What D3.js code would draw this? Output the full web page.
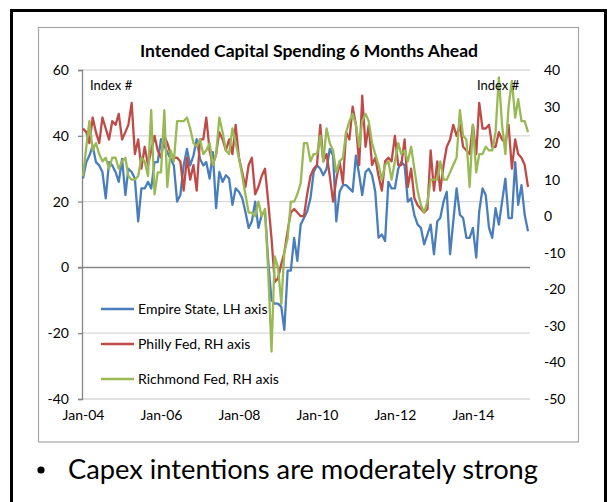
<!DOCTYPE html>
<html>
<head>
<meta charset="utf-8">
<script src="https://cdn.jsdelivr.net/npm/d3@7"></script>
<style>
  html, body { margin: 0; padding: 0; background: #fff; }
  svg { display: block; font-family: Lato, "Open Sans", sans-serif; }
</style>
</head>
<body>
<svg id="chart" width="610" height="502"></svg>
<script>
// Monthly survey readings, Jan 2004 – Jun 2015
const startMonth = new Date(Date.UTC(2004, 0, 1));
const endMonth = new Date(Date.UTC(2015, 5, 1));

// Empire State future capex index (left axis)
const empireState = [
  27, 32, 34, 37, 32, 31, 29, 21, 32, 31, 29, 26, 33, 22, 30, 29, 27, 14, 24, 24,
  26, 24, 32, 32, 39, 37, 35, 33, 31, 20, 22, 31, 36, 31, 34, 39, 33, 31, 32, 27,
  35, 18, 29, 26, 28, 27, 19, 24, 23, 21, 17, 12, 14, 20, 12, 16, 17, 2, -10, -11,
  -11, -12, -19, -1, -1, 9, 2, 13, 15, 17, 21, 29, 31, 30, 28, 30, 36, 34, 14, 23,
  25, 25, 24, 23, 34, 28, 22, 29, 30, 28, 23, 9, 10, 8, 26, 24, 24, 30, 32, 31,
  20, 21, 16, 13, 12, 7, 10, 13, 4, 14, 15, 20, 23, 4, 14, 24, 16, 15, 9, 9,
  12, 3, 17, 24, 22, 12, 9, 18, 13, 20, 27, 15, 15, 32, 19, 25, 16, 11
];

// Philadelphia Fed future capex index (right axis)
const phillyFed = [
  24, 23, 20, 27, 23, 20, 27, 24, 21, 26, 25, 28, 21, 23, 25, 31, 17, 21, 13, 19,
  14, 18, 22, 18, 16, 22, 20, 17, 16, 16, 15, 7, 16, 10, 14, 7, 21, 21, 27, 18,
  14, 17, 23, 21, 18, 21, 17, 25, 16, 12, 8, 14, 16, 6, 8, 11, 13, 4, -6, -18,
  -17, -13, -10, -4, 1, 2, 1, 0, 0, 6, 11, 13, 14, 25, 15, 17, 11, 4, 10, 15,
  9, 23, 21, 30, 25, 14, 33, 19, 25, 14, 16, 11, 7, 15, 16, 15, 22, 14, 14, 21,
  8, 13, 5, 3, 2, 1, 2, 18, 7, 15, 7, 14, 19, 21, 25, 22, 25, 19, 18, 17,
  25, 17, 31, 24, 24, 25, 19, 19, 23, 21, 20, 25, 13, 21, 17, 16, 14, 8
];

// Richmond Fed expected capital expenditures (right axis)
const richmondFed = [
  11, 19, 26, 18, 20, 17, 15, 16, 13, 16, 16, 13, 15, 16, 11, 10, 10, 11, 16, 15,
  11, 29, 6, 12, 12, 29, 8, 18, 15, 26, 26, 26, 27, 24, 20, 19, 21, 17, 18, 20,
  14, 17, 27, 23, 18, 17, 24, 20, 16, 11, 6, 1, 1, 0, 4, 0, 2, -15, -37, -11,
  -14, -24, -10, -6, 4, 4, 6, 9, 20, 20, 15, 17, 17, 22, 15, 24, 20, 18, 12, 15,
  16, 23, 26, 28, 25, 19, 26, 28, 26, 20, 17, 14, 10, 14, 15, 10, 15, 20, 17, 18,
  15, 19, 13, 7, 3, 1, 4, 10, 10, 10, 15, 10, 10, 12, 14, 16, 29, 22, 21, 8,
  25, 12, 17, 17, 19, 18, 18, 23, 38, 25, 17, 30, 37, 27, 32, 26, 26, 23
];

const leftTicks = [-40, -20, 0, 20, 40, 60];
const rightTicks = [-50, -40, -30, -20, -10, 0, 10, 20, 30, 40];
const yearTicks = [2004, 2006, 2008, 2010, 2012, 2014];

const seriesInfo = [
  { name: "Empire State, LH axis", values: empireState, axis: "left", color: "#4a7ebb" },
  { name: "Philly Fed, RH axis", values: phillyFed, axis: "right", color: "#be4b48" },
  { name: "Richmond Fed, RH axis", values: richmondFed, axis: "right", color: "#98b954" }
];

const months = d3.utcMonth.range(startMonth, d3.utcMonth.offset(endMonth, 1));

const svg = d3.select("#chart");
const plot = { left: 82, right: 530, top: 70, bottom: 399 };
const plain = d => String(d); // hyphen-minus for negatives

// Slide frame and chart frame
svg.append("rect")
  .attr("x", 11.5).attr("y", 10.5).attr("width", 594).attr("height", 600)
  .attr("fill", "none").attr("stroke", "#000").attr("stroke-width", 3);
svg.append("rect")
  .attr("x", 38.5).attr("y", 27.5).attr("width", 540).attr("height", 414.5)
  .attr("fill", "#fff").attr("stroke", "#a6a6a6").attr("stroke-width", 1.2);

const x = d3.scaleUtc().domain([startMonth, endMonth]).range([83, 528]);
const yL = d3.scaleLinear().domain([-40, 60]).range([plot.bottom, plot.top]);
const yR = d3.scaleLinear().domain([-50, 40]).range([plot.bottom, plot.top]);

// Gridlines
svg.append("g")
  .selectAll("line")
  .data(leftTicks.filter(d => d !== 0))
  .join("line")
  .attr("x1", plot.left).attr("x2", plot.right)
  .attr("y1", d => yL(d)).attr("y2", d => yL(d))
  .attr("stroke", "#d9d9d9").attr("stroke-width", 1.3);

// Left axis
const leftAxis = svg.append("g")
  .attr("transform", `translate(${plot.left},0)`)
  .call(d3.axisLeft(yL).tickValues(leftTicks).tickFormat(plain).tickSize(4).tickPadding(9));
leftAxis.select(".domain").attr("stroke", "#868686").attr("stroke-width", 1.3);
leftAxis.selectAll(".tick line").attr("stroke", "#868686").attr("stroke-width", 1.3);
leftAxis.selectAll(".tick text").attr("font-size", 14).attr("fill", "#000")
  .attr("font-family", "Lato, sans-serif");

// Right axis
const rightAxis = svg.append("g")
  .attr("transform", `translate(${plot.right},0)`)
  .call(d3.axisRight(yR).tickValues(rightTicks).tickFormat(plain).tickSize(0).tickPadding(14));
rightAxis.select(".domain").remove();
rightAxis.selectAll(".tick text").attr("font-size", 14).attr("fill", "#000")
  .attr("font-family", "Lato, sans-serif");

// Horizontal axis at zero
svg.append("line")
  .attr("x1", plot.left - 4).attr("x2", plot.right)
  .attr("y1", yL(0)).attr("y2", yL(0))
  .attr("stroke", "#868686").attr("stroke-width", 1.5);

// Date labels along the bottom
const bottomAxis = svg.append("g")
  .attr("transform", `translate(0,${plot.bottom})`)
  .call(d3.axisBottom(x)
    .tickValues(yearTicks.map(yr => new Date(Date.UTC(yr, 0, 1))))
    .tickFormat(d3.utcFormat("%b-%y"))
    .tickSize(0).tickPadding(11));
bottomAxis.select(".domain").remove();
bottomAxis.selectAll(".tick text").attr("font-size", 14).attr("fill", "#000")
  .attr("font-family", "Lato, sans-serif");

// Series lines
seriesInfo.forEach(s => {
  const y = s.axis === "left" ? yL : yR;
  const line = d3.line()
    .x((d, i) => x(months[i]))
    .y(d => y(d));
  svg.append("path")
    .datum(s.values)
    .attr("d", line)
    .attr("fill", "none")
    .attr("stroke", s.color)
    .attr("stroke-width", 2.3)
    .attr("stroke-linejoin", "round");
});

// Title
svg.append("text")
  .attr("x", 309).attr("y", 57)
  .attr("text-anchor", "middle")
  .attr("font-size", 17).attr("font-weight", "bold")
  .attr("textLength", 338).attr("lengthAdjust", "spacingAndGlyphs")
  .text("Intended Capital Spending 6 Months Ahead");

// Axis unit captions
svg.append("text").attr("x", 90).attr("y", 90)
  .attr("font-size", 13).text("Index #");
svg.append("text").attr("x", 477).attr("y", 90)
  .attr("font-size", 13).text("Index #");

// Legend
const legend = svg.append("g");
seriesInfo.forEach((s, i) => {
  const ly = 309 + i * 35;
  legend.append("line")
    .attr("x1", 101).attr("x2", 134)
    .attr("y1", ly).attr("y2", ly)
    .attr("stroke", s.color).attr("stroke-width", 2.3);
  legend.append("text")
    .attr("x", 138).attr("y", ly + 5)
    .attr("font-size", 14)
    .text(s.name);
});

// Bullet note under the chart
svg.append("circle").attr("cx", 41).attr("cy", 470).attr("r", 3.6).attr("fill", "#000");
svg.append("text")
  .attr("x", 68).attr("y", 479)
  .attr("font-size", 26)
  .attr("textLength", 470).attr("lengthAdjust", "spacingAndGlyphs")
  .text("Capex intentions are moderately strong");
</script>
</body>
</html>
